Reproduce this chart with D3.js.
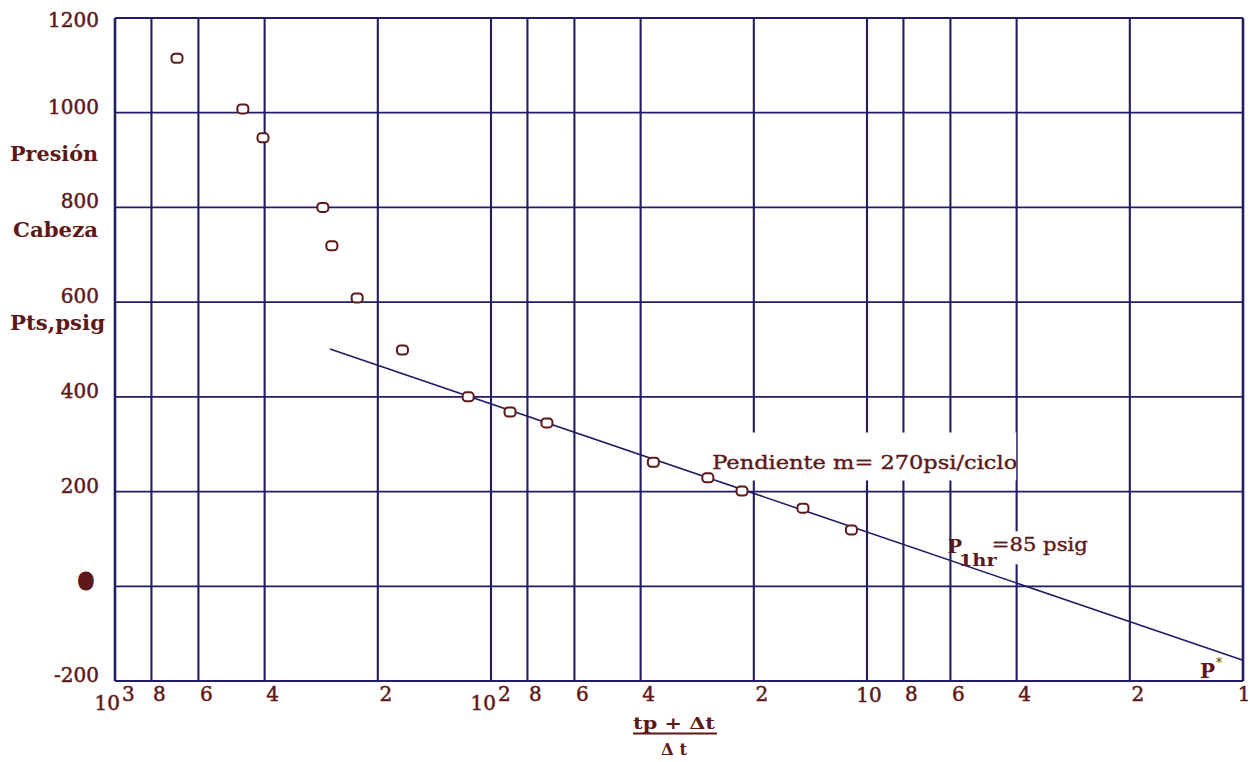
<!DOCTYPE html>
<html>
<head>
<meta charset="utf-8">
<script src="https://cdn.jsdelivr.net/npm/d3@7"></script>
<style>
  html, body { margin: 0; padding: 0; background: #ffffff; }
  svg { display: block; }
</style>
</head>
<body>
<svg id="chart" width="1250" height="762"></svg>
<script>
// ---------------- data ----------------
const horner = [684, 457, 404, 280, 265, 227, 172, 115, 89, 71, 37, 26.5, 21.5, 14.8, 11];          // (tp+Δt)/Δt
const pressure = [1115, 1008, 947, 800, 719, 609, 499, 400, 368, 345, 262, 229, 201, 165, 119];    // Pts, psig
const fitX = [268, 1];        // straight line, Horner ratio
const fitY = [501, -156];     // straight line, psig  (m = 270 psi/ciclo, ends at P*)
const xTicks = [1000, 800, 600, 400, 200, 100, 80, 60, 40, 20, 10, 8, 6, 4, 2, 1];
const xTickLabels = ["10", "8", "6", "4", "2", "10", "8", "6", "4", "2", "10", "8", "6", "4", "2", "1"];
const xTickSup = ["3", "", "", "", "", "2", "", "", "", "", "", "", "", "", "", ""];
const yTicks = [-200, 0, 200, 400, 600, 800, 1000, 1200];
const yTickLabels = ["-200", "0", "200", "400", "600", "800", "1000", "1200"];
const yTitle = ["Presión", "Cabeza", "Pts,psig"];
const slopeLabel = "Pendiente m= 270psi/ciclo";
const p1hrLabel = ["P", "1hr", "=85 psig"];
const pStarLabel = ["P", "*"];

// ---------------- layout ----------------
const svg = d3.select("#chart");
const grid = "#201d66";
const ink = "#5e1818";
const serif = "'DejaVu Serif', 'Liberation Serif', serif";

const x = d3.scaleLog().domain([1000, 1]).range([115, 1243]);
const y = d3.scaleLinear().domain([-200, 1200]).range([681, 18]);

// horizontal grid
svg.append("g").selectAll("line").data(yTicks).join("line")
  .attr("x1", x(1000)).attr("x2", x(1))
  .attr("y1", d => y(d)).attr("y2", d => y(d))
  .attr("stroke", grid).attr("stroke-width", 1.8);

// vertical grid
svg.append("g").selectAll("line").data(xTicks).join("line")
  .attr("x1", d => x(d)).attr("x2", d => x(d))
  .attr("y1", y(1200)).attr("y2", y(-200))
  .attr("stroke", grid).attr("stroke-width", d => (d === 1000 || d === 1) ? 2.6 : 2.1);

// white backgrounds behind the annotations (they interrupt the grid)
const slopeAnchor = { xv: 25.8, yv: 255 };
const p1Anchor = { xv: 5.2, yv: 78 };

svg.append("rect")
  .attr("x", x(slopeAnchor.xv) - 8).attr("y", y(slopeAnchor.yv) - 33)
  .attr("width", 312).attr("height", 48).attr("fill", "#fff");
svg.append("rect")
  .attr("x", x(p1Anchor.xv) + 16).attr("y", y(p1Anchor.yv) - 18)
  .attr("width", 100).attr("height", 33).attr("fill", "#fff");

// straight line
const fit = fitX.map((d, i) => [d, fitY[i]]);
svg.append("path")
  .datum(fit)
  .attr("d", d3.line().x(d => x(d[0])).y(d => y(d[1])))
  .attr("fill", "none").attr("stroke", grid).attr("stroke-width", 1.6);

// data points
const pts = horner.map((d, i) => ({ x: d, y: pressure[i] }));
svg.append("g").selectAll("rect").data(pts).join("rect")
  .attr("x", d => x(d.x) - 5.5).attr("y", d => y(d.y) - 4.5)
  .attr("width", 11).attr("height", 9).attr("rx", 3.5)
  .attr("fill", "#fff").attr("stroke", ink).attr("stroke-width", 2);

// y tick labels
svg.append("g").selectAll("text").data(yTicks).join("text")
  .attr("x", (d, i) => yTickLabels[i] === "0" ? 86 : 99)
  .attr("y", d => Math.max(y(d) + 1, 27))
  .attr("text-anchor", (d, i) => yTickLabels[i] === "0" ? "middle" : "end")
  .attr("font-family", serif)
  .attr("font-size", (d, i) => yTickLabels[i] === "0" ? 17 : 20)
  .attr("fill", ink)
  .attr("stroke", ink)
  .attr("stroke-width", (d, i) => yTickLabels[i] === "0" ? 7 : 0.5)
  .attr("stroke-linejoin", "round")
  .text((d, i) => yTickLabels[i]);

// y title lines
const titleY = [161, 237, 330];
const titleX = [10, 13, 10];
const titleW = [88, 85, 95];
svg.append("g").selectAll("text").data(yTitle).join("text")
  .attr("x", (d, i) => titleX[i]).attr("y", (d, i) => titleY[i])
  .attr("font-family", serif).attr("font-size", 20).attr("font-weight", "bold")
  .attr("fill", ink)
  .attr("textLength", (d, i) => titleW[i]).attr("lengthAdjust", "spacingAndGlyphs")
  .text(d => d);

// x tick labels
const xl = svg.append("g")
  .attr("font-family", serif).attr("font-size", 20).attr("fill", ink)
  .attr("stroke", ink).attr("stroke-width", 0.5);
xTicks.forEach((v, i) => {
  const px = x(v);
  const lab = xTickLabels[i];
  if (lab === "10") {
    const sup = xTickSup[i];
    if (sup) {
      xl.append("text").attr("x", px + 5).attr("y", 710).attr("text-anchor", "end").text(lab);
      xl.append("text").attr("x", px + 7).attr("y", 701).text(sup);
    } else {
      xl.append("text").attr("x", px + 2).attr("y", 702).attr("text-anchor", "middle").text(lab);
    }
  } else {
    xl.append("text").attr("x", v === 1 ? px + 1 : px + 8).attr("y", 701)
      .attr("text-anchor", "middle").text(lab);
  }
});

// x title as a fraction
const fx = 674;
svg.append("text").attr("x", fx).attr("y", 729).attr("text-anchor", "middle")
  .attr("font-family", serif).attr("font-size", 17).attr("font-weight", "bold").attr("fill", ink)
  .attr("textLength", 82).attr("lengthAdjust", "spacingAndGlyphs")
  .text("tp + Δt");
svg.append("line").attr("x1", 633).attr("x2", 717).attr("y1", 733.5).attr("y2", 733.5)
  .attr("stroke", ink).attr("stroke-width", 2);
svg.append("text").attr("x", fx).attr("y", 755).attr("text-anchor", "middle")
  .attr("font-family", serif).attr("font-size", 17).attr("font-weight", "bold").attr("fill", ink)
  .attr("textLength", 26).attr("lengthAdjust", "spacingAndGlyphs")
  .text("Δ t");

// slope annotation
svg.append("text").attr("x", x(slopeAnchor.xv)).attr("y", y(slopeAnchor.yv) + 3)
  .attr("font-family", serif).attr("font-size", 19).attr("fill", ink)
  .attr("stroke", ink).attr("stroke-width", 0.4)
  .attr("textLength", 305).attr("lengthAdjust", "spacingAndGlyphs")
  .text(slopeLabel);

// P1hr annotation
const p1x = x(p1Anchor.xv) - 26, p1y = y(p1Anchor.yv) + 4;
svg.append("text").attr("x", p1x).attr("y", p1y)
  .attr("font-family", serif).attr("font-size", 19).attr("font-weight", "bold").attr("fill", ink)
  .text(p1hrLabel[0]);
svg.append("text").attr("x", p1x + 11).attr("y", p1y + 13)
  .attr("font-family", serif).attr("font-size", 17).attr("font-weight", "bold").attr("fill", ink)
  .attr("textLength", 38).attr("lengthAdjust", "spacingAndGlyphs")
  .text(p1hrLabel[1]);
svg.append("text").attr("x", p1x + 44).attr("y", p1y - 2)
  .attr("font-family", serif).attr("font-size", 19).attr("fill", ink)
  .attr("stroke", ink).attr("stroke-width", 0.4)
  .attr("textLength", 96).attr("lengthAdjust", "spacingAndGlyphs")
  .text(p1hrLabel[2]);

// P* annotation near the extrapolated end
svg.append("text").attr("x", x(1) - 43).attr("y", 678)
  .attr("font-family", serif).attr("font-size", 20).attr("font-weight", "bold").attr("fill", ink)
  .text(pStarLabel[0]);
svg.append("text").attr("x", x(1) - 27).attr("y", 667)
  .attr("font-family", serif).attr("font-size", 12).attr("fill", ink)
  .text(pStarLabel[1]);
</script>
</body>
</html>
